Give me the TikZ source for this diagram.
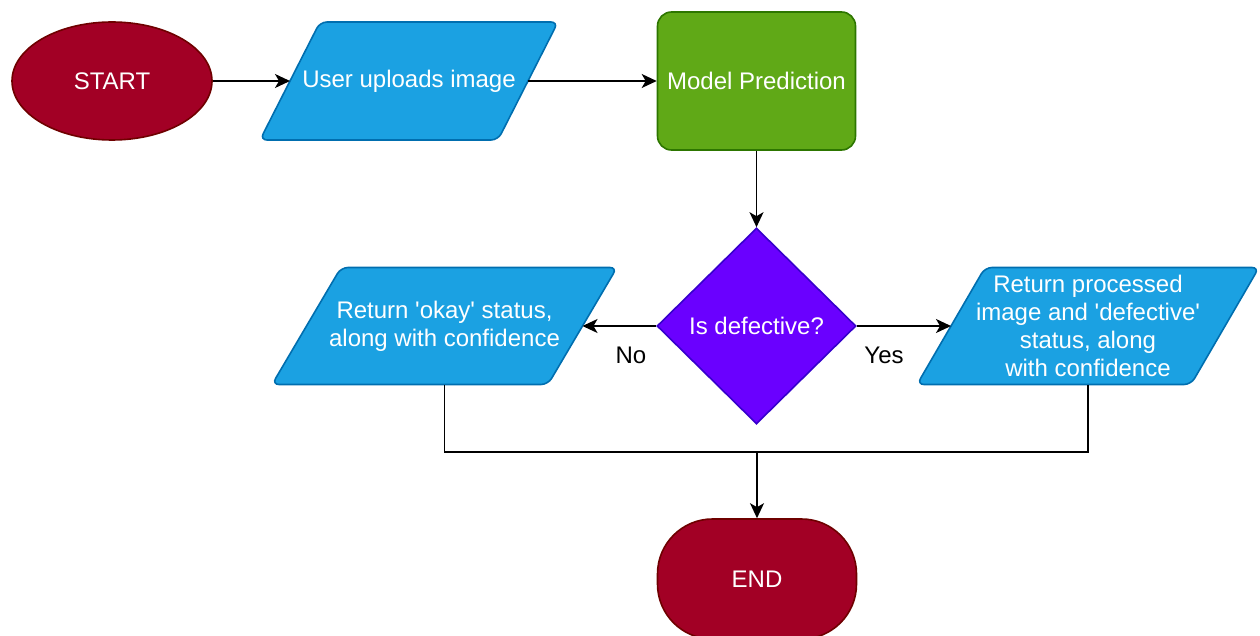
\documentclass[tikz,border=0pt]{standalone}
\usepackage{fontspec}
\setmainfont{Liberation Sans}
\usetikzlibrary{shapes.geometric,arrows.meta,backgrounds}

\definecolor{termfill}{HTML}{A20025}
\definecolor{termline}{HTML}{6F0000}
\definecolor{iofill}{HTML}{1BA1E2}
\definecolor{ioline}{HTML}{006EAF}
\definecolor{procfill}{HTML}{60A917}
\definecolor{procline}{HTML}{2D7600}
\definecolor{decfill}{HTML}{6A00FF}
\definecolor{decline}{HTML}{3700CC}

\tikzset{
  base/.style={inner sep=0pt, line width=1.6pt, font=\fontsize{24}{28}\selectfont},
  lbl/.style={inner sep=0pt, text=black, font=\fontsize{24}{28}\selectfont},
  terminal/.style={base, draw=termline, fill=termfill, text=white},
  % the parallelogram is drawn behind a box whose sides sit on its slanted edges at mid height
  iobox/.style={base, text=white, align=center, rectangle, outer sep=0pt, minimum height=117pt},
  ioshape/.style={draw=ioline, fill=iofill, line width=1.6pt, rounded corners=7pt},
  procbox/.style={base, draw=procline, fill=procfill, text=white, rectangle,
    rounded corners=14pt, minimum width=198pt, minimum height=138pt},
  decbox/.style={base, draw=decline, fill=decfill, text=white, diamond,
    minimum width=199pt, minimum height=196pt},
  arr/.style={line width=1.5pt, -{Stealth[length=15pt, width=14pt, inset=4pt]}},
  wire/.style={line width=1.5pt}
}

% parallelogram around node #1 with horizontal slant #2
\newcommand\ioframe[2]{%
  \begin{scope}[on background layer]
    \draw[ioshape] ([xshift=-#2/2]#1.south west) -- ([xshift=-#2/2]#1.south east)
      -- ([xshift=#2/2]#1.north east) -- ([xshift=#2/2]#1.north west) -- cycle;
  \end{scope}}

\newcommand\sq{\textquotesingle}

\begin{document}
\begin{tikzpicture}[x=1pt, y=-1pt]
  \useasboundingbox (0,0) rectangle (1260,636);
  \clip (0,0) rectangle (1260,636);

  % start terminal
  \node[terminal, ellipse, minimum width=200pt, minimum height=118pt] (start) at (112,81) {START};

  % input parallelogram
  \node[iobox, minimum width=238pt, minimum height=118pt] (upload) at (409,81) {User uploads image};
  \ioframe{upload}{60}

  % model step
  \node[procbox] (model) at (756.5,81) {Model Prediction};

  % decision
  \node[decbox] (decide) at (756.5,326) {Is defective?};

  % outputs
  \node[iobox, minimum width=276pt] (okay) at (444.5,326) {Return \sq okay\sq{} status,\\along with confidence};
  \ioframe{okay}{69}

  \node[iobox, minimum width=274pt] (defect) at (1088,326) {Return processed\\image and \sq defective\sq\\status, along\\with confidence};
  \ioframe{defect}{68}

  % end terminal
  \node[terminal, rectangle, rounded corners=55pt, minimum width=199pt, minimum height=120pt] (finish) at (757,579) {END};

  % connectors
  \draw[arr] (start) -- (upload);
  \draw[arr] (upload) -- (model);
  \draw[arr] (model) -- (decide);
  \draw[arr] (decide) -- (okay);
  \draw[arr] (decide) -- (defect);

  \node[lbl] (nolbl) at (631,355) {No};
  \node[lbl] (yeslbl) at (884,355) {Yes};

  \coordinate (merge) at (757,452);
  \draw[wire] (okay.south) |- (merge) -| (defect.south);
  \draw[arr] (merge) -- (finish);
\end{tikzpicture}
\end{document}
